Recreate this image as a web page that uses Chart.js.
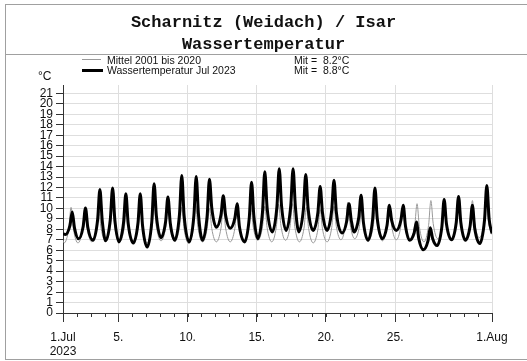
<!DOCTYPE html>
<html><head><meta charset="utf-8">
<script src="https://cdn.jsdelivr.net/npm/chart.js@4.4.0/dist/chart.umd.min.js"></script>
<style>
html,body{margin:0;padding:0;background:#fff;}
#wrap{position:relative;width:527px;height:361px;overflow:hidden;}
#c{position:absolute;left:0;top:0;}
.frame{position:absolute;left:5px;top:4px;width:540px;height:356px;border:1px solid #a0a0a0;box-sizing:border-box;}
.sep{position:absolute;left:5px;top:54px;width:522px;height:1px;background:#a0a0a0;}
.title{position:absolute;left:0;width:527px;text-align:center;font:bold 17px "Liberation Mono",monospace;color:#111;line-height:20px;}
.leg{position:absolute;font:10.5px "Liberation Sans",Arial,sans-serif;color:#111;white-space:pre;line-height:12px;}
.unit{position:absolute;left:38px;top:69px;font:12px "Liberation Sans",Arial,sans-serif;color:#111;line-height:14px;}
.smp{position:absolute;}
</style></head>
<body>
<div id="wrap">
<canvas id="c" width="527" height="361"></canvas>
<div class="frame"></div>
<div class="sep"></div>
<div class="title" style="top:13px">Scharnitz (Weidach) / Isar</div>
<div class="title" style="top:35px">Wassertemperatur</div>
<div class="smp" style="left:82px;top:59px;width:19px;height:1px;background:#999"></div>
<div class="smp" style="left:82px;top:69px;width:21px;height:3px;background:#000"></div>
<div class="leg" style="left:107px;top:54px">Mittel 2001 bis 2020</div>
<div class="leg" style="left:107px;top:64px">Wassertemperatur Jul 2023</div>
<div class="leg" style="left:294px;top:54px">Mit =  8.2°C</div>
<div class="leg" style="left:294px;top:64px">Mit =  8.8°C</div>
<div class="unit">°C</div>
</div>
<script>
// Hours since 1 Jul 2023 00:00
const blackHours = [0,
 4,12,16,20, 27,35,39,43, 52,60,64,68, 74,82,86,90, 97,105,109,113,
 122,130,134,138, 146,154,158,162, 170,178,182,186, 194,202,206,210, 219,227,231,235,
 242,250,254,258, 266,274,278,282, 290,298,302,306, 315,323,327,331, 338,346,350,354,
 363,371,375,379, 387,395,399,403, 409,417,421,425, 434,442,446,450, 458,466,470,474,
 484,492,496,500, 505,513,517,521, 529,537,541,545, 554,562,566,570, 578,586,590,594,
 601,609,613,617, 625,633,637,641, 649,657,661,665, 674,682,686,690, 698,706,710,714,
 723,731,735,739, 744];
const blackTemps = [7.6,
 7.5,8.36,9.65,8.12, 7.1,8.28,10.05,8.19, 6.95,8.89,11.8,8.86, 6.9,8.92,11.95,8.86, 6.8,8.64,11.4,8.58,
 6.7,8.58,11.4,8.34, 6.3,8.72,12.35,9.26, 7.2,8.76,11.1,8.61, 6.95,9.43,13.15,9.34, 6.8,9.3,13.05,9.39,
 6.95,9.29,12.8,10.04, 8.2,9.4,11.2,9.34, 8.1,9.04,10.45,8.26, 6.8,9.08,12.5,9.26, 7.1,9.66,13.5,10.05,
 7.75,10.17,13.8,10.26, 7.9,10.26,13.8,10.17, 7.75,9.95,13.25,10.04, 7.9,9.58,12.1,9.58, 7.9,9.82,12.7,9.67,
 7.65,8.77,10.45,8.83, 7.75,9.15,11.25,8.67, 6.95,8.95,11.95,9.04, 7.1,8.38,10.3,8.86, 7.9,8.86,10.3,8.29,
 6.95,7.65,8.7,7.11, 6.05,6.89,8.15,7.13, 6.45,8.21,10.85,8.54, 7.0,8.66,11.15,8.63, 6.95,8.29,10.3,8.11,
 6.65,8.87,12.2,9.0, 7.6];
const meanHours = [0,
 2,10,14,18, 26,34,38,42, 50,58,62,66, 74,82,86,90, 98,106,110,114,
 122,130,134,138, 146,154,158,162, 170,178,182,186, 194,202,206,210, 218,226,230,234,
 242,250,254,258, 266,274,278,282, 290,298,302,306, 314,322,326,330, 338,346,350,354,
 362,370,374,378, 386,394,398,402, 410,418,422,426, 434,442,446,450, 458,466,470,474,
 482,490,494,498, 506,514,518,522, 530,538,542,546, 554,562,566,570, 578,586,590,594,
 602,610,614,618, 626,634,638,642, 650,658,662,666, 674,682,686,690, 698,706,710,714,
 722,730,734,738, 744];
const meanTemps = [6.95,
 6.7,8.06,10.1,8.06, 6.7,7.98,9.9,8.04, 6.8,8.08,10.0,8.11, 6.85,8.15,10.1,8.12, 6.8,8.04,9.9,8.04,
 6.8,8.08,10.0,8.02, 6.7,8.1,10.2,8.22, 6.9,8.14,10.0,8.14, 6.9,8.18,10.1,8.03, 6.65,8.11,10.3,8.2,
 6.8,8.08,10.0,8.08, 6.8,8.12,10.1,8.12, 6.8,8.08,10.0,8.11, 6.85,8.15,10.1,8.21, 6.95,8.25,10.2,8.16,
 6.8,8.24,10.4,8.33, 6.95,8.35,10.45,8.26, 6.8,8.12,10.1,8.06, 6.7,7.98,9.9,8.04, 6.8,8.16,10.2,8.28,
 7.0,8.44,10.6,8.5, 7.1,8.26,10.0,8.17, 6.95,8.25,10.2,8.22, 6.9,8.26,10.3,8.32, 7.0,8.32,10.3,8.29,
 6.95,8.35,10.45,8.26, 6.8,8.38,10.75,8.56, 7.1,8.46,10.5,8.43, 7.05,8.43,10.5,8.43, 7.05,8.53,10.75,8.62,
 7.2,8.56,10.6,8.68, 7.5];
const xTickHours = [0, 96, 216, 336, 456, 576, 744];
const xTickLabels = [['1.Jul','2023'], '5.', '10.', '15.', '20.', '25.', '1.Aug'];
const dayHours = [24,48,72,96,120,144,168,192,216,240,264,288,312,336,360,384,408,432,456,480,504,528,552,576,600,624,648,672,696,720];
const yTicks = [0,1,2,3,4,5,6,7,8,9,10,11,12,13,14,15,16,17,18,19,20,21];

const minorTicks = {
  id: 'minorTicks',
  afterDraw(chart) {
    const s = chart.scales.x, c = chart.ctx;
    c.save();
    c.strokeStyle = '#333'; c.lineWidth = 1;
    dayHours.forEach(h => {
      const px = Math.round(s.getPixelForValue(h)) + 0.5;
      c.beginPath(); c.moveTo(px, s.top); c.lineTo(px, s.top + 4); c.stroke();
    });
    c.restore();
  }
};

const font = {family: '"Liberation Sans", Arial, sans-serif', size: 12};
new Chart(document.getElementById('c'), {
  type: 'line',
  data: {datasets: [
    {label: 'Wassertemperatur Jul 2023', data: blackHours.map((h, i) => ({x: h, y: blackTemps[i]})),
     borderColor: '#000', borderWidth: 3, pointRadius: 0, cubicInterpolationMode: 'monotone', order: 0, borderJoinStyle: 'round'},
    {label: 'Mittel 2001 bis 2020', data: meanHours.map((h, i) => ({x: h, y: meanTemps[i]})),
     borderColor: '#999', borderWidth: 1, pointRadius: 0, cubicInterpolationMode: 'monotone', order: 1}
  ]},
  options: {
    responsive: false, animation: false, devicePixelRatio: 1,
    layout: {padding: {left: 0, right: 35, top: 85, bottom: 0}},
    plugins: {legend: {display: false}, title: {display: false}, tooltip: {enabled: false}},
    scales: {
      x: {type: 'linear', min: 0, max: 744,
        afterBuildTicks: s => { s.ticks = xTickHours.map(v => ({value: v})); },
        ticks: {autoSkip: false, maxRotation: 0, callback: (v, i) => xTickLabels[i], font: font, color: '#111', padding: 8},
        grid: {color: '#dedede', tickColor: '#333', tickLength: 9},
        border: {color: '#333'},
        afterFit: s => { s.height = 48; }},
      y: {type: 'linear', min: 0, max: 21.8,
        afterBuildTicks: s => { s.ticks = yTicks.map(v => ({value: v})); },
        ticks: {autoSkip: false, callback: v => String(v), font: font, color: '#111', padding: 3},
        grid: {color: '#dedede', tickColor: '#333', tickLength: 7},
        border: {color: '#333'},
        afterFit: s => { s.width = 63; }}
    }
  },
  plugins: [minorTicks]
});
</script>
</body></html>
